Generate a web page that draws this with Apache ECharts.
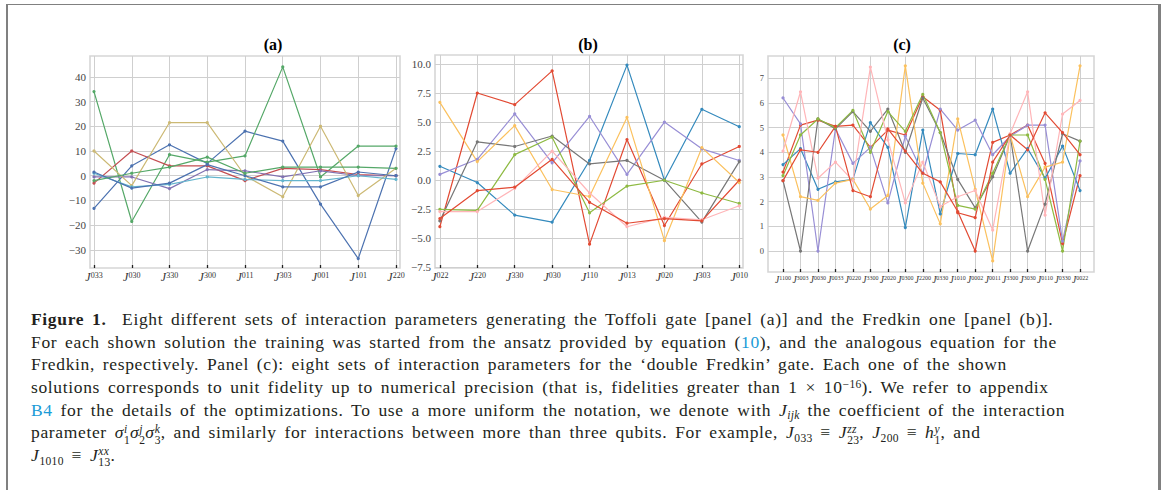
<!DOCTYPE html>
<html><head><meta charset="utf-8">
<script src="https://cdn.jsdelivr.net/npm/echarts@6/dist/echarts.min.js"></script>
<style>
html,body{margin:0;padding:0;background:#fff;width:1163px;height:490px;overflow:hidden;}
#frame{position:absolute;left:6px;top:4px;width:1150px;height:520px;border-top:1px solid #808080;border-left:2px solid #808080;border-right:3px solid #808080;}
#chart{position:absolute;left:0;top:0;width:1163px;height:300px;}
#cap{position:absolute;left:31px;top:308px;font-family:'Liberation Serif','Times New Roman',serif;font-size:17.5px;line-height:22.7px;color:#231f20;white-space:nowrap;letter-spacing:0.65px;word-spacing:2.8px;}
#cap .ln{display:block;height:22.7px;}
#cap a{color:#1a9bd7;text-decoration:none;}
#cap i{font-style:italic;}
#cap .sb{font-size:0.66em;position:relative;top:0.3em;line-height:0;letter-spacing:0.3px;}
#cap .sp{font-size:0.66em;position:relative;top:-0.45em;line-height:0;letter-spacing:0.3px;}
#cap .st{display:inline-block;position:relative;font-size:0.66em;line-height:0.95em;vertical-align:-0.45em;letter-spacing:0.3px;}
#cap .st span{display:block;}
</style></head>
<body>
<div id="frame"></div>
<div id="chart"></div>
<div id="cap">
<span class="ln"><b>Figure 1.</b>&nbsp; Eight different sets of interaction parameters generating the Toffoli gate [panel (a)] and the Fredkin one [panel (b)].</span>
<span class="ln">For each shown solution the training was started from the ansatz provided by equation (<a>10</a>), and the analogous equation for the</span>
<span class="ln">Fredkin, respectively. Panel (c): eight sets of interaction parameters for the ‘double Fredkin’ gate. Each one of the shown</span>
<span class="ln">solutions corresponds to unit fidelity up to numerical precision (that is, fidelities greater than 1 × 10<span class="sp">−16</span>). We refer to appendix</span>
<span class="ln"><a>B4</a> for the details of the optimizations. To use a more uniform the notation, we denote with <i>J</i><span class="sb"><i>ijk</i></span> the coefficient of the interaction</span>
<span class="ln">parameter <i>σ</i><span class="st"><span><i>i</i></span><span>1</span></span><i>σ</i><span class="st"><span><i>j</i></span><span>2</span></span><i>σ</i><span class="st"><span><i>k</i></span><span>3</span></span>, and similarly for interactions between more than three qubits. For example, <i>J</i><span class="sb">033</span> ≡ <i>J</i><span class="st"><span><i>zz</i></span><span>23</span></span>, <i>J</i><span class="sb">200</span> ≡ <i>h</i><span class="st"><span><i>y</i></span><span>1</span></span>, and</span>
<span class="ln"><i>J</i><span class="sb">1010</span> ≡ <i>J</i><span class="st"><span><i>xx</i></span><span>13</span></span>.</span>
</div>
<script>
// ---------- data ----------
const catsA = ['033','030','330','300','011','303','001','101','220'];
const catsB = ['022','220','330','030','110','013','020','303','010'];
const catsC = ['1100','3003','0030','0033','0220','3300','2020','0300','2200','0330','1010','0002','0011','3300','3030','0110','0330','0022'];

const ticksA = [-30,-20,-10,0,10,20,30,40];
const ticksB = [-7.5,-5,-2.5,0,2.5,5,7.5,10];
const ticksC = [0,1,2,3,4,5,6,7];

const a1 = [-13.2, 4, 12.5, 5, 18, 14, -11.5, -33.5, 11];
const a2 = [34, -18.5, 8.5, 5.5, 8, 44, -0.5, 12, 12];
const a3 = [-3, 10, 4, 4, -2, 3, 2.5, 0.5, 0];
const a4 = [-0.5, -0.5, -5.2, 2.5, 2, -0.5, 2, 0, 0];
const a5 = [10, -4, 21.5, 21.5, 0, -8.5, 20, -8, 3];
const a6 = [1, -4.5, -3.5, -0.5, -1.5, -2, -2, 0, -1.5];
const a7 = [1.5, -5, -3, 4.5, 0, -4.5, -4.5, 1.5, 0];
const a8 = [-2, 1, 3.5, 7.5, 1, 3.5, 3.5, 3.5, 3];

const b1 = [-4.0, 7.5, 6.5, 9.4, -5.5, 3.5, -3.9, 1.4, 2.9];
const b2 = [1.2, -0.2, -3.0, -3.6, 1.7, 9.9, 0.0, 6.1, 4.6];
const b3 = [0.5, 1.8, 5.7, 1.5, 5.5, 0.5, 5.0, 2.7, 1.7];
const b4 = [-3.5, 3.3, 2.9, 3.8, 1.4, 1.7, 0.0, -3.6, 1.6];
const b5 = [6.7, 1.6, 4.7, -0.8, -1.4, 5.4, -5.2, 2.8, -0.2];
const b6 = [-2.5, -2.6, 2.2, 3.7, -2.8, -0.5, 0.0, -1.1, -2.0];
const b7 = [-2.7, -2.7, -0.7, 2.5, -1.1, -4.0, -3.2, -3.4, -2.2];
const b8 = [-3.3, -0.9, -0.6, 1.8, -1.9, -3.7, -3.3, -3.5, 0.0];

const c1 = [3.2, 5.1, 5.3, 5.05, 5.1, 4.2, 4.9, 4.7, 6.25, 5.7, 1.55, 1.35, 4.4, 4.7, 5.1, 3.55, 0.3, 3.05];
const c2 = [3.5, 4.15, 2.5, 2.8, 2.9, 5.2, 4.2, 0.95, 4.9, 1.5, 3.95, 3.9, 5.75, 3.15, 4.15, 2.95, 4.25, 2.45];
const c3 = [6.2, 5.15, 0, 4.95, 3.55, 4.2, 1.95, 4.65, 3.15, 5.75, 4.9, 5.3, 3.9, 4.65, 5.1, 5.1, 0.4, 3.65];
const c4 = [2.85, 0, 5.35, 4.95, 5.65, 4.85, 5.75, 4.0, 6.2, 4.8, 2.9, 1.75, 3.0, 4.7, 0, 1.9, 4.75, 4.45];
const c5 = [4.7, 2.2, 2.05, 2.75, 2.9, 1.7, 2.25, 7.5, 2.75, 1.1, 5.35, 2.5, -0.4, 4.7, 2.2, 3.4, 3.6, 7.5];
const c6 = [3.05, 4.7, 5.35, 5.0, 5.7, 4.0, 5.65, 4.85, 6.35, 4.8, 1.85, 1.7, 3.15, 4.7, 4.7, 2.9, 0, 4.45];
const c7 = [4.05, 6.45, 2.95, 3.6, 2.85, 7.45, 4.5, 1.95, 3.6, 1.8, 2.2, 2.45, 0.85, 4.75, 6.45, 1.45, 5.55, 6.1];
const c8 = [2.85, 4.1, 4.0, 5.05, 2.45, 2.2, 4.95, 4.05, 3.15, 2.8, 1.6, 0, 3.6, 4.7, 4.1, 5.6, 4.8, 3.9];

const deep = ['#4C72B0','#55A868','#C44E52','#8172B2','#CCB974','#64B5CD','#4C72B0','#55A868'];
const gg = ['#E24A33','#348ABD','#988ED5','#777777','#FBC15E','#8EBA42','#FFB5B8','#E24A33'];

// ---------- chart ----------
const FONT = "'Liberation Serif','DejaVu Serif',serif";
const chart = echarts.init(document.getElementById('chart'), null, {renderer:'svg'});

function xFmt(cats){
  return function(v){
    const i = Math.round(v);
    if (Math.abs(v - i) > 1e-6 || cats[i] === undefined) return '';
    return '{j|J}{s|' + cats[i] + '}';
  };
}
function minus(s){ return String(s).replace('-', '\u2212'); }

function xAxis(idx, cats, min, max, jf, sf){
  return {
    type:'value', gridIndex: idx, min: min, max: max,
    axisLine:{show:false, onZero:false},
    axisTick:{show:true, inside:true, length:3, customValues: cats.map((c,i)=>i), lineStyle:{color:'#222', width:1.3}},
    axisLabel:{customValues: cats.map((c,i)=>i), margin: 3, formatter: xFmt(cats), color:'#333',
      rich:{
        j:{fontFamily:FONT, fontStyle:'italic', fontSize:jf, color:'#333', lineHeight: jf+2, verticalAlign:'top'},
        s:{fontFamily:FONT, fontSize:sf, color:'#333', lineHeight: jf+2+sf, verticalAlign:'top'}
      }},
    splitLine:{show:true, lineStyle:{color:'#cfcfcf', width:1}}
  };
}
function yAxis(idx, ticks, min, max, fs, fmt){
  return {
    type:'value', gridIndex: idx, min: min, max: max,
    axisLine:{show:false, onZero:false}, axisTick:{show:false, customValues: ticks},
    axisLabel:{customValues: ticks, margin: 4, fontFamily: FONT, fontSize: fs, color:'#444', formatter: fmt},
    splitLine:{show:true, lineStyle:{color:'#cfcfcf', width:1}}
  };
}
function mkSeries(arrs, colors, gi){
  return arrs.map((arr, k) => ({
    type:'line', xAxisIndex: gi, yAxisIndex: gi,
    data: arr.map((v, i) => [i, v]),
    symbol:'circle', symbolSize: 3.2, showSymbol:true,
    lineStyle:{color: colors[k], width: 1.2},
    itemStyle:{color: colors[k]},
    animation:false, silent:true
  }));
}

const gridStyle = {show:true, borderColor:'#d6d6d6', borderWidth:1.6, backgroundColor:'#fff'};

const option = {
  animation:false,
  title:[
    {text:'(a)', left:268, top:31, textAlign:'center', textStyle:{fontFamily:FONT, fontWeight:'bold', fontSize:16, color:'#000'}},
    {text:'(b)', left:583, top:31, textAlign:'center', textStyle:{fontFamily:FONT, fontWeight:'bold', fontSize:16, color:'#000'}},
    {text:'(c)', left:897, top:31, textAlign:'center', textStyle:{fontFamily:FONT, fontWeight:'bold', fontSize:16, color:'#000'}}
  ],
  grid:[
    Object.assign({left:90, top:56, width:310, height:212}, gridStyle),
    Object.assign({left:435, top:55, width:308, height:213}, gridStyle),
    Object.assign({left:768, top:56, width:326, height:216}, gridStyle)
  ],
  xAxis:[
    xAxis(0, catsA, -0.106, 8.106, 12, 8),
    xAxis(1, catsB, -0.13, 8.1, 12, 8),
    xAxis(2, catsC, -0.86, 17.8, 9.5, 6)
  ],
  yAxis:[
    yAxis(0, ticksA, -37.3, 48.4, 11, v => minus(v)),
    yAxis(1, ticksB, -7.55, 10.77, 11, v => minus(v.toFixed(1))),
    yAxis(2, ticksC, -0.85, 7.9, 8.5, v => minus(v))
  ],
  series: [].concat(
    mkSeries([a1,a2,a3,a4,a5,a6,a7,a8], deep, 0),
    mkSeries([b1,b2,b3,b4,b5,b6,b7,b8], gg, 1),
    mkSeries([c1,c2,c3,c4,c5,c6,c7,c8], gg, 2)
  )
};
chart.setOption(option);
</script>
</body></html>
